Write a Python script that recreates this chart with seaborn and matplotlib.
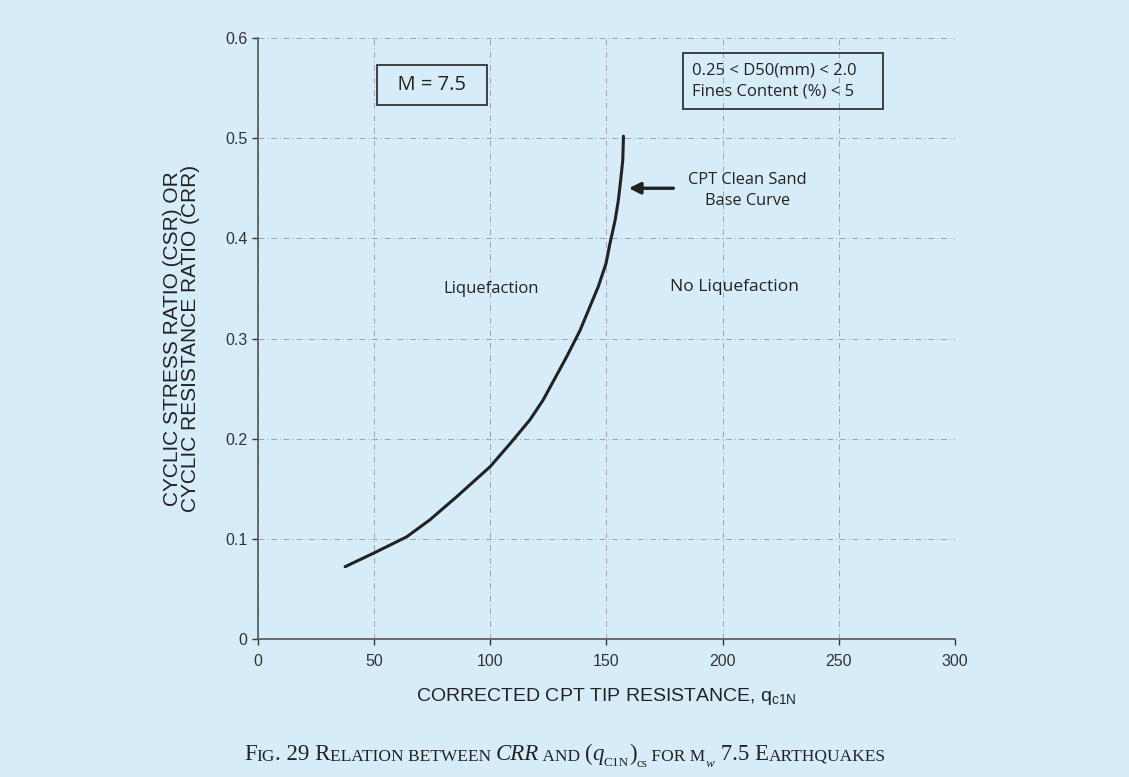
import pandas as pd
import matplotlib.pyplot as plt
import seaborn as sns

# CPT clean sand base curve
qc1n = [37.5, 49.6, 64.0, 74.0, 85.5, 99.9, 108.5, 117.1, 122.7, 132.9, 138.6, 142.9, 146.5,
        149.8, 151.5, 153.7, 155.1, 156.1, 157.0, 157.3]
crr = [0.0722, 0.0855, 0.102, 0.119, 0.142, 0.172, 0.195, 0.219, 0.2385, 0.282, 0.308, 0.332, 0.352,
       0.375, 0.395, 0.418, 0.438, 0.458, 0.478, 0.502]
x_ticks = [0, 50, 100, 150, 200, 250, 300]
y_ticks = [0, 0.1, 0.2, 0.3, 0.4, 0.5, 0.6]
y_tick_labels = ['0', '0.1', '0.2', '0.3', '0.4', '0.5', '0.6']

bg = '#d6edf9'
ink = '#222222'

sns.set_theme(style='ticks')
plt.rcParams['font.family'] = ['Liberation Sans', 'DejaVu Sans']

df = pd.DataFrame({'qc1n': qc1n, 'crr': crr})

fig = plt.figure(figsize=(11.29, 7.77), dpi=100, facecolor=bg)
ax = fig.add_axes([0.2285, 0.1776, 0.6174, 0.7735])
ax.set_facecolor(bg)

sns.lineplot(data=df, x='qc1n', y='crr', sort=False, color=ink, lw=2.2, ax=ax)

ax.set_xlim(0, 300)
ax.set_ylim(0, 0.6)
ax.set_xticks(x_ticks)
ax.set_yticks(y_ticks)
ax.set_yticklabels(y_tick_labels)
ax.tick_params(labelsize=11.5, colors='#333333', length=4, width=1)
ax.tick_params(axis='x', pad=7)
ax.grid(True, color='#8a8a8a', lw=0.7, ls=(0, (6, 3, 1, 3)), alpha=0.75)
for s in ['top', 'right']:
    ax.spines[s].set_visible(False)
for s in ['left', 'bottom']:
    ax.spines[s].set_color('#555555')
    ax.spines[s].set_linewidth(1.2)

ax.set_xlabel(r'CORRECTED CPT TIP RESISTANCE, q$_{\mathregular{c1N}}$', fontsize=14, color=ink, labelpad=12)
ax.set_ylabel('CYCLIC STRESS RATIO (CSR) OR\nCYCLIC RESISTANCE RATIO (CRR)', fontsize=15, color=ink,
              labelpad=18, linespacing=0.95)

anno_font = ['Open Sans', 'DejaVu Sans']
ax.text(74.9, 0.553, '  M = 7.5  ', ha='center', va='center', fontsize=14.5, family=anno_font, color=ink,
        bbox=dict(boxstyle='square,pad=0.5', fc='none', ec='#333333', lw=1.3))
ax.text(186.8, 0.557, '0.25 < D50(mm) < 2.0    \nFines Content (%) < 5', ha='left', va='center', fontsize=12,
        family=anno_font, color=ink, linespacing=1.45,
        bbox=dict(boxstyle='square,pad=0.55', fc='none', ec='#333333', lw=1.3))
ax.text(210.7, 0.448, 'CPT Clean Sand\nBase Curve', ha='center', va='center', fontsize=11.8,
        family=anno_font, color=ink, linespacing=1.45)
ax.annotate('', xy=(158.4, 0.450), xytext=(180, 0.450),
            arrowprops=dict(arrowstyle='-|>', color=ink, lw=2.4, mutation_scale=17))
ax.text(100.3, 0.349, 'Liquefaction', ha='center', va='center', fontsize=12, family=anno_font, color=ink)
ax.text(205, 0.351, 'No Liquefaction', ha='center', va='center', fontsize=12.5, family=anno_font, color=ink)

# caption in small caps, built piece by piece
serif = ['Liberation Serif', 'DejaVu Serif']
big, small = 16.5, 12.5
pieces = [('F', big, 'normal', 0), ('IG', small, 'normal', 0), ('. 29 R', big, 'normal', 0),
          ('ELATION BETWEEN ', small, 'normal', 0), ('CRR', big, 'italic', 0), (' AND ', small, 'normal', 0),
          ('(', big, 'normal', 0), ('q', big, 'italic', 0), ('C1N', 9.5, 'normal', -3), (')', big, 'normal', 3),
          ('cs', 9.5, 'normal', -4), (' FOR M', small, 'normal', 4), ('w', 9.5, 'italic', -4),
          (' 7.5 E', big, 'normal', 4), ('ARTHQUAKES', small, 'normal', 0)]
prev = fig.text(0.216, 0.016, '', fontsize=big, family=serif)
for txt, fs, st, dy in pieces:
    prev = ax.annotate(txt, xy=(1, 0), xycoords=prev, xytext=(0, dy), textcoords='offset points',
                       fontsize=fs, style=st, family=serif, color=ink, ha='left', va='bottom')

fig.savefig('out.png', dpi=100, facecolor=bg)
